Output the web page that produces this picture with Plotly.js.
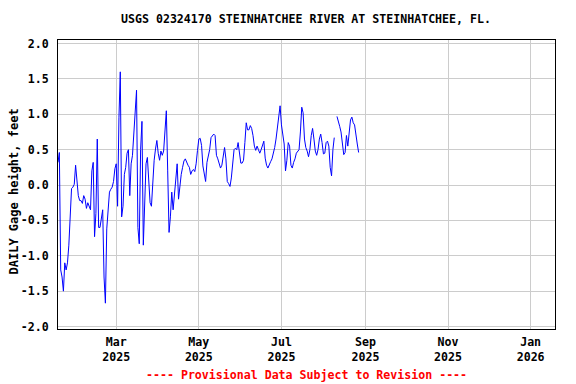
<!DOCTYPE html>
<html>
<head>
<meta charset="utf-8">
<script src="https://cdn.plot.ly/plotly-3.0.1.min.js"></script>
<style>
  html, body { margin: 0; padding: 0; background: #fff; }
  #chart { width: 576px; height: 384px; }
</style>
</head>
<body>
<div id="chart"></div>
<script>
// Daily gage height (feet), consecutive days beginning at startDate; null = missing day
const startDate = '2025-01-17';
const gageHeight = [
  0.32, 0.46, -1.2, -1.3, -1.5, -1.1, -1.2, -1.1, -0.85, -0.35,
  -0.05, -0.03, 0.01, 0.28, 0.1, -0.15, -0.22, -0.22, -0.26, -0.15,
  -0.2, -0.33, -0.25, -0.32, -0.35, 0.2, 0.32, -0.73, -0.4, 0.65,
  -0.6, -0.6, -0.5, -0.35, -1.3, -1.67, -0.62, -0.3, -0.1, -0.06,
  -0.03, 0.05, 0.23, 0.3, -0.3, 0.95, 1.6, -0.45, -0.3, 0.15,
  0.25, 0.45, 0.5, -0.15, 0.3, 0.42, 0.72, 1.1, 1.34, -0.6,
  -0.83, 0.5, 0.9, -0.85, -0.1, 0.3, 0.39, 0.0, -0.25, -0.3,
  0.05, 0.35, 0.51, 0.63, 0.45, 0.35, 0.48, 0.42, 0.48, 0.82,
  1.05, 0.2, -0.67, -0.45, -0.1, -0.35, -0.15, 0.05, 0.3, -0.2,
  0.02, 0.15, 0.25, 0.34, 0.37, 0.32, 0.28, 0.25, 0.15, 0.2,
  0.22, 0.19, 0.3, 0.49, 0.65, 0.66, 0.56, 0.27, 0.16, 0.05,
  0.32, 0.41, 0.5, 0.67, 0.7, 0.72, 0.7, 0.42, 0.37, 0.32,
  0.24, 0.28, 0.4, 0.53, 0.37, 0.05, 0.02, -0.02, 0.1, 0.35,
  0.5, 0.52, 0.5, 0.6, 0.4, 0.31, 0.31, 0.35, 0.6, 0.88,
  0.78, 0.78, 0.84, 0.8, 0.7, 0.55, 0.49, 0.55, 0.5, 0.45,
  0.5, 0.58, 0.62, 0.38, 0.28, 0.24, 0.3, 0.33, 0.37, 0.44,
  0.53, 0.65, 0.79, 0.93, 1.12, 0.85, 0.68, 0.58, 0.2, 0.35,
  0.6, 0.55, 0.28, 0.24, 0.32, 0.37, 0.45, 0.47, 0.5, 0.75,
  1.1, 1.02, 0.65, 0.53, 0.48, 0.4, 0.5, 0.7, 0.8, 0.65,
  0.48, 0.42, 0.5, 0.65, 0.72, 0.6, 0.44, 0.45, 0.6, 0.62,
  0.55, 0.25, 0.13, 0.5, 0.67, null, 0.97, 0.91, 0.83, 0.75,
  0.56, 0.43, 0.46, 0.7, 0.55, 0.75, 0.92, 0.96, 0.88, 0.85,
  0.67, 0.58, 0.46
];
const xTickDates = ['2025-03-01', '2025-05-01', '2025-07-01', '2025-09-01', '2025-11-01', '2026-01-01'];
const xTickLabels = ['Mar<br>2025', 'May<br>2025', 'Jul<br>2025', 'Sep<br>2025', 'Nov<br>2025', 'Jan<br>2026'];
const yTickVals = [-2.0, -1.5, -1.0, -0.5, 0.0, 0.5, 1.0, 1.5, 2.0];
const yTickLabels = ['-2.0', '-1.5', '-1.0', '-0.5', '0.0', '0.5', '1.0', '1.5', '2.0'];
const xRange = ['2025-01-17', '2026-01-19'];
const titleText = 'USGS 02324170 STEINHATCHEE RIVER AT STEINHATCHEE, FL.';
const yTitleText = 'DAILY Gage height, feet';
const footerText = '---- Provisional Data Subject to Revision ----';

// build date strings for each daily value
const dates = [];
const d0 = new Date(startDate + 'T00:00:00Z');
for (let i = 0; i < gageHeight.length; i++) {
  const d = new Date(d0.getTime() + i * 86400000);
  dates.push(d.toISOString().slice(0, 10));
}

const FONT = 'DejaVu Sans Mono, Liberation Mono, monospace';
const W = 576, H = 384;
const M = { l: 58, r: 21, t: 40, b: 55 };
const plotW = W - M.l - M.r, plotH = H - M.t - M.b;

const trace = {
  x: dates,
  y: gageHeight,
  type: 'scatter',
  mode: 'lines',
  connectgaps: false,
  line: { color: '#0000ff', width: 1 },
  hoverinfo: 'skip'
};

const layout = {
  width: W,
  height: H,
  margin: M,
  paper_bgcolor: '#ffffff',
  plot_bgcolor: '#ffffff',
  showlegend: false,
  title: {
    text: titleText,
    font: { family: FONT, size: 11.6, color: '#000', weight: 'bold' },
    x: 306 / W, xanchor: 'center', xref: 'container',
    y: 1 - 19 / H, yanchor: 'middle', yref: 'container'
  },
  xaxis: {
    type: 'date',
    range: xRange,
    tickvals: xTickDates,
    ticktext: xTickLabels,
    showgrid: true,
    gridcolor: '#cccccc',
    gridwidth: 1,
    showline: true,
    linecolor: '#000',
    linewidth: 1,
    mirror: true,
    ticks: '',
    ticklabelstandoff: 2,
    zeroline: false,
    tickfont: { family: FONT, size: 11.6, color: '#000', weight: 'bold' }
  },
  yaxis: {
    range: [-2.035, 2.05],
    tickvals: yTickVals,
    ticktext: yTickLabels,
    showgrid: true,
    gridcolor: '#cccccc',
    gridwidth: 1,
    showline: true,
    linecolor: '#000',
    linewidth: 1,
    mirror: true,
    ticks: '',
    ticklabelstandoff: 6,
    zeroline: false,
    tickfont: { family: FONT, size: 11.6, color: '#000', weight: 'bold' }
  },
  annotations: [{
    text: yTitleText,
    textangle: -90,
    xref: 'paper', yref: 'paper',
    x: (13.5 - M.l) / plotW, y: 1 - (192 - M.t) / plotH,
    xanchor: 'center', yanchor: 'middle',
    showarrow: false,
    font: { family: FONT, size: 12, color: '#000', weight: 'bold' }
  }, {
    text: footerText,
    xref: 'paper', yref: 'paper',
    x: (306 - M.l) / plotW, y: -(375 - (H - M.b)) / plotH,
    xanchor: 'center', yanchor: 'middle',
    showarrow: false,
    font: { family: FONT, size: 11.6, color: '#ff0000', weight: 'bold' }
  }]
};

Plotly.newPlot('chart', [trace], layout, { displayModeBar: false, staticPlot: true });
</script>
</body>
</html>
